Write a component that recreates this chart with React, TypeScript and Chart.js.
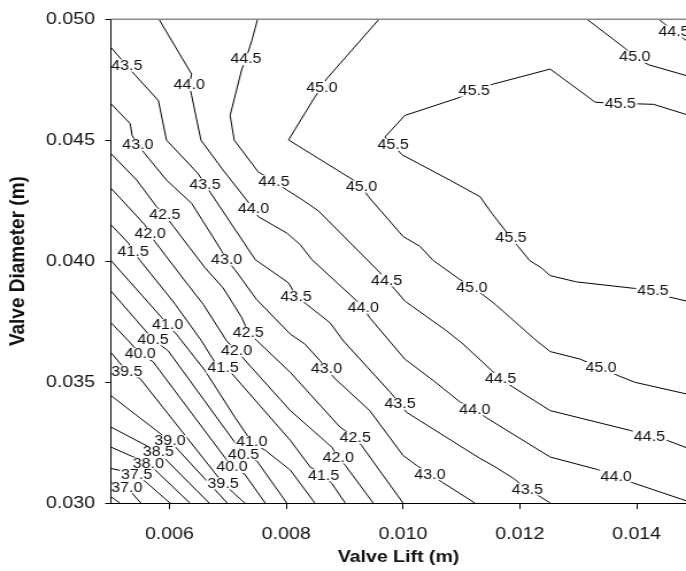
import React, { useEffect, useRef } from 'react';
import { Chart, registerables } from 'chart.js';
Chart.register(...registerables);

// Axis ticks (metres)
const xTicks = [0.006, 0.008, 0.010, 0.012, 0.014];
const yTicks = [0.030, 0.035, 0.040, 0.045, 0.050];

// Contour lines, points as [valve lift (mm), valve diameter (mm)]
const c365 = [[5.00, 30.26], [5.15, 30.00]];
const c370 = [[5.00, 30.88], [5.27, 30.65], [5.51, 30.00]];
const c375 = [[5.00, 31.43], [5.44, 31.19], [6.01, 30.00]];
const c380 = [[5.00, 32.31], [5.64, 31.63], [6.35, 30.00]];
const c385 = [[5.00, 33.14], [5.81, 32.11], [6.68, 30.00]];
const c390 = [[5.00, 34.44], [6.01, 32.56], [6.99, 30.00]];
const c395 = [[5.00, 36.22], [5.27, 35.44], [5.50, 35.14], [6.92, 30.81], [7.29, 30.00]];
const c400 = [[5.00, 37.45], [5.30, 36.70], [5.50, 36.16], [5.72, 35.84], [7.07, 31.49], [7.29, 31.19], [7.64, 30.00]];
const c405 = [[5.00, 38.76], [5.72, 36.76], [5.98, 36.29], [7.27, 32.01], [7.50, 31.73], [8.01, 30.00]];
const c410 = [[5.00, 40.02], [5.87, 37.66], [5.97, 37.36], [6.12, 36.98], [6.21, 36.70], [6.61, 35.47], [7.12, 33.55], [7.41, 32.52], [7.64, 32.18], [8.07, 31.36], [8.49, 30.00]];
const c415 = [[5.00, 41.50], [5.30, 40.74], [5.38, 40.40], [5.50, 40.02], [5.92, 38.76], [6.10, 38.21], [6.55, 36.70], [6.78, 35.81], [6.92, 35.60], [7.07, 35.35], [8.07, 32.59], [8.41, 31.49], [8.64, 31.15], [8.78, 30.81], [9.01, 30.00]];
const c420 = [[5.00, 43.01], [5.58, 41.50], [5.67, 41.13], [5.75, 40.81], [6.27, 39.17], [6.58, 38.21], [6.98, 36.70], [7.15, 36.29], [8.07, 33.82], [8.78, 32.31], [8.89, 31.88], [9.01, 31.56], [9.49, 30.00]];
const c425 = [[5.00, 44.44], [5.44, 43.35], [5.78, 42.25], [5.92, 41.91], [6.07, 41.43], [6.61, 39.72], [6.92, 38.89], [7.24, 37.66], [7.35, 37.04], [7.49, 36.73], [8.07, 35.40], [8.92, 33.14], [9.18, 32.70], [9.29, 32.38], [10.00, 30.00]];
const c430 = [[5.00, 46.50], [5.33, 45.68], [5.36, 45.20], [5.46, 44.81], [5.58, 44.44], [5.95, 43.35], [6.38, 42.39], [6.90, 40.40], [6.98, 40.06], [7.12, 39.65], [7.49, 38.42], [8.07, 36.98], [8.32, 36.57], [8.58, 35.88], [8.69, 35.54], [8.84, 35.13], [9.43, 33.82], [10.00, 31.97], [10.23, 31.56], [10.46, 31.19], [10.69, 30.83], [11.23, 30.00]];
const c435 = [[5.00, 48.83], [5.27, 48.08], [5.42, 47.67], [5.81, 46.64], [5.95, 45.00], [6.49, 43.62], [6.61, 43.17], [6.70, 42.84], [7.47, 40.06], [8.04, 39.10], [8.17, 38.55], [8.35, 38.21], [8.75, 37.45], [8.98, 36.70], [9.78, 34.58], [9.95, 34.10], [10.06, 33.75], [11.32, 31.84], [11.58, 31.49], [11.89, 31.02], [12.13, 30.56], [12.35, 30.26], [12.52, 30.00]];
const c440 = [[5.82, 50.00], [6.38, 47.73], [6.34, 47.28], [6.38, 46.85], [6.54, 45.00], [6.92, 43.76], [7.32, 42.53], [7.44, 42.16], [7.52, 41.84], [8.01, 41.16], [8.24, 40.68], [8.44, 40.06], [9.21, 38.35], [9.32, 38.07], [9.43, 37.66], [10.03, 35.95], [10.52, 35.06], [10.98, 34.17], [11.23, 33.87], [11.43, 33.52], [12.52, 31.90], [13.32, 31.39], [13.65, 31.11], [13.94, 30.83], [14.85, 30.09]];
const c445 = [[7.51, 50.00], [7.41, 49.11], [7.31, 48.35], [7.24, 47.94], [7.04, 46.02], [7.11, 45.00], [7.52, 43.69], [7.79, 43.30], [8.01, 42.94], [8.24, 42.59], [8.55, 42.08], [9.61, 39.51], [9.72, 39.20], [9.86, 38.83], [10.03, 38.35], [10.75, 37.11], [11.03, 36.57], [11.52, 35.47], [11.67, 35.13], [11.89, 34.78], [12.52, 33.82], [13.89, 33.00], [14.22, 32.75], [14.52, 32.59], [14.85, 32.29]];
const c445b = [[14.38, 50.00], [14.64, 49.49], [14.85, 49.12]];
const c450 = [[9.59, 50.00], [8.69, 47.53], [8.61, 47.19], [8.49, 46.78], [8.04, 45.01], [9.15, 43.35], [9.29, 43.08], [9.41, 42.66], [10.00, 41.02], [10.29, 40.61], [10.52, 40.02], [10.95, 39.28], [11.18, 38.92], [11.40, 38.55], [11.58, 38.21], [12.29, 36.70], [12.52, 36.26], [13.03, 35.95], [13.39, 35.58], [13.69, 35.26], [13.97, 34.99], [14.85, 34.51]];
const c450b = [[13.15, 50.00], [13.80, 48.80], [13.97, 48.45], [14.20, 48.12], [14.85, 47.67]];
const c455 = [[14.85, 46.06], [14.29, 46.48], [14.03, 46.50], [13.72, 46.50], [13.29, 46.57], [12.52, 47.94], [11.55, 47.32], [11.22, 47.05], [10.95, 46.75], [10.03, 46.02], [9.69, 45.13], [9.83, 44.81], [9.98, 44.40], [10.80, 43.35], [11.32, 42.66], [11.52, 41.98], [11.72, 41.36], [11.85, 40.95], [11.97, 40.61], [12.17, 40.02], [12.37, 39.72], [12.52, 39.40], [12.97, 39.14], [13.97, 38.87], [14.28, 38.76], [14.57, 38.51], [14.85, 38.35]];

const contourLines = [c365, c370, c375, c380, c385, c390, c395, c400, c405, c410, c415, c420, c425, c430, c435, c440, c445, c445b, c450, c450b, c455];

// Contour labels: level and positions [lift mm, diameter mm]
const labelLevels = [45.5, 45.0, 44.5, 44.0, 43.5, 43.0, 42.5, 42.0, 41.5, 41.0, 40.5, 40.0, 39.5, 39.0, 38.5, 38.0, 37.5, 37.0];
const labelPositions = [
  [[13.72, 46.50], [11.22, 47.05], [9.83, 44.81], [11.85, 40.95], [14.28, 38.76]],
  [[13.97, 48.45], [8.61, 47.19], [9.29, 43.08], [11.18, 38.92], [13.39, 35.58]],
  [[14.64, 49.49], [7.31, 48.35], [7.79, 43.30], [9.72, 39.20], [11.67, 35.13], [14.22, 32.75]],
  [[6.34, 47.28], [7.44, 42.16], [9.32, 38.07], [11.23, 33.87], [13.65, 31.11]],
  [[5.27, 48.08], [6.61, 43.17], [8.17, 38.55], [9.95, 34.10], [12.13, 30.56]],
  [[5.46, 44.81], [6.98, 40.06], [8.69, 35.54], [10.46, 31.19]],
  [[5.92, 41.91], [7.35, 37.04], [9.18, 32.70]],
  [[5.67, 41.13], [7.15, 36.29], [8.89, 31.88]],
  [[5.38, 40.40], [6.92, 35.60], [8.64, 31.15]],
  [[5.97, 37.36], [7.41, 32.52]],
  [[5.72, 36.76], [7.27, 32.01]],
  [[5.50, 36.16], [7.07, 31.49]],
  [[5.27, 35.44], [6.92, 30.81]],
  [[6.01, 32.56]],
  [[5.81, 32.11]],
  [[5.64, 31.63]],
  [[5.44, 31.19]],
  [[5.27, 30.65]],
];

const MM = 0.001;
const FONT = '"Liberation Sans", Arial, Helvetica, sans-serif';

const contourLabelPlugin = {
  id: 'contourLabels',
  afterDatasetsDraw(chart: any) {
    const { ctx, chartArea, scales } = chart;
    const xs = scales.x;
    const ys = scales.y;
    ctx.save();
    // top frame line
    ctx.strokeStyle = '#8a8a8a';
    ctx.lineWidth = 1.6;
    ctx.beginPath();
    ctx.moveTo(chartArea.left, chartArea.top);
    ctx.lineTo(chartArea.right, chartArea.top);
    ctx.stroke();

    ctx.font = `14px ${FONT}`;
    ctx.textAlign = 'center';
    ctx.textBaseline = 'middle';
    labelLevels.forEach((lvl, i) => {
      const text = lvl.toFixed(1);
      const w = ctx.measureText(text).width;
      labelPositions[i].forEach(([lx, ly]) => {
        const px = xs.getPixelForValue(lx * MM);
        const py = ys.getPixelForValue(ly * MM);
        ctx.save();
        ctx.beginPath();
        ctx.rect(chartArea.left + 1, chartArea.top + 1, chartArea.right - chartArea.left, chartArea.bottom - chartArea.top - 2);
        ctx.clip();
        ctx.fillStyle = '#ffffff';
        ctx.fillRect(px - w / 2 - 1, py - 6, w + 2, 12);
        ctx.restore();
        ctx.fillStyle = '#111111';
        ctx.fillText(text, px, py + 0.5);
      });
    });
    ctx.restore();
  },
};

export default function App() {
  const ref = useRef<HTMLCanvasElement>(null);
  useEffect(() => {
    if (!ref.current) return;
    const datasets = contourLines.map((line) => ({
      data: line.map(([x, y]) => ({ x: x * MM, y: y * MM })),
      showLine: true,
      borderColor: '#000000',
      borderWidth: 1,
      pointRadius: 0,
      pointHoverRadius: 0,
      fill: false,
      tension: 0,
    }));
    const chart = new Chart(ref.current, {
      type: 'scatter',
      data: { datasets },
      options: {
        responsive: false,
        animation: false,
        devicePixelRatio: 1,
        events: [],
        layout: { padding: { top: 16, right: 0, left: 0, bottom: 0 } },
        plugins: { legend: { display: false }, tooltip: { enabled: false } },
        scales: {
          x: {
            type: 'linear',
            min: 0.005,
            max: 0.014846,
            afterFit: (s: any) => { s.height = 68; },
            afterBuildTicks: (s: any) => { s.ticks = xTicks.map((v) => ({ value: v })); },
            ticks: {
              callback: (v: any) => Number(v).toFixed(3),
              font: { family: FONT, size: 17 },
              color: '#111',
              padding: 15,
              maxRotation: 0,
              autoSkip: false,
            },
            grid: { display: true, drawOnChartArea: false, drawTicks: true, tickLength: 6, color: '#000', lineWidth: 1 },
            border: { display: true, color: '#000', width: 1 },
            title: {
              display: true,
              text: 'Valve Lift (m)',
              font: { family: FONT, size: 17, weight: 'bold' },
              color: '#111',
              padding: { top: 0, bottom: 3 },
            },
          },
          y: {
            type: 'linear',
            min: 0.030,
            max: 0.050,
            afterFit: (s: any) => { s.width = 96.6; },
            afterBuildTicks: (s: any) => { s.ticks = yTicks.map((v) => ({ value: v })); },
            ticks: {
              callback: (v: any) => Number(v).toFixed(3),
              font: { family: FONT, size: 17 },
              color: '#111',
              padding: 9,
              autoSkip: false,
            },
            grid: { display: true, drawOnChartArea: false, drawTicks: true, tickLength: 5, color: '#000', lineWidth: 1 },
            border: { display: true, color: '#000', width: 1 },
            title: {
              display: true,
              text: 'Valve Diameter (m)',
              font: { family: FONT, size: 19, weight: 'bold' },
              color: '#111',
              padding: { top: 4, bottom: 0 },
            },
          },
        },
      },
      plugins: [contourLabelPlugin],
    } as any);
    return () => chart.destroy();
  }, []);
  return (
    <div style={{ position: 'absolute', left: 0, top: 0, width: 686, height: 571, overflow: 'hidden', background: '#fff' }}>
      <canvas ref={ref} width={597} height={571} style={{ width: '686px', height: '571px', display: 'block' }} />
    </div>
  );
}
